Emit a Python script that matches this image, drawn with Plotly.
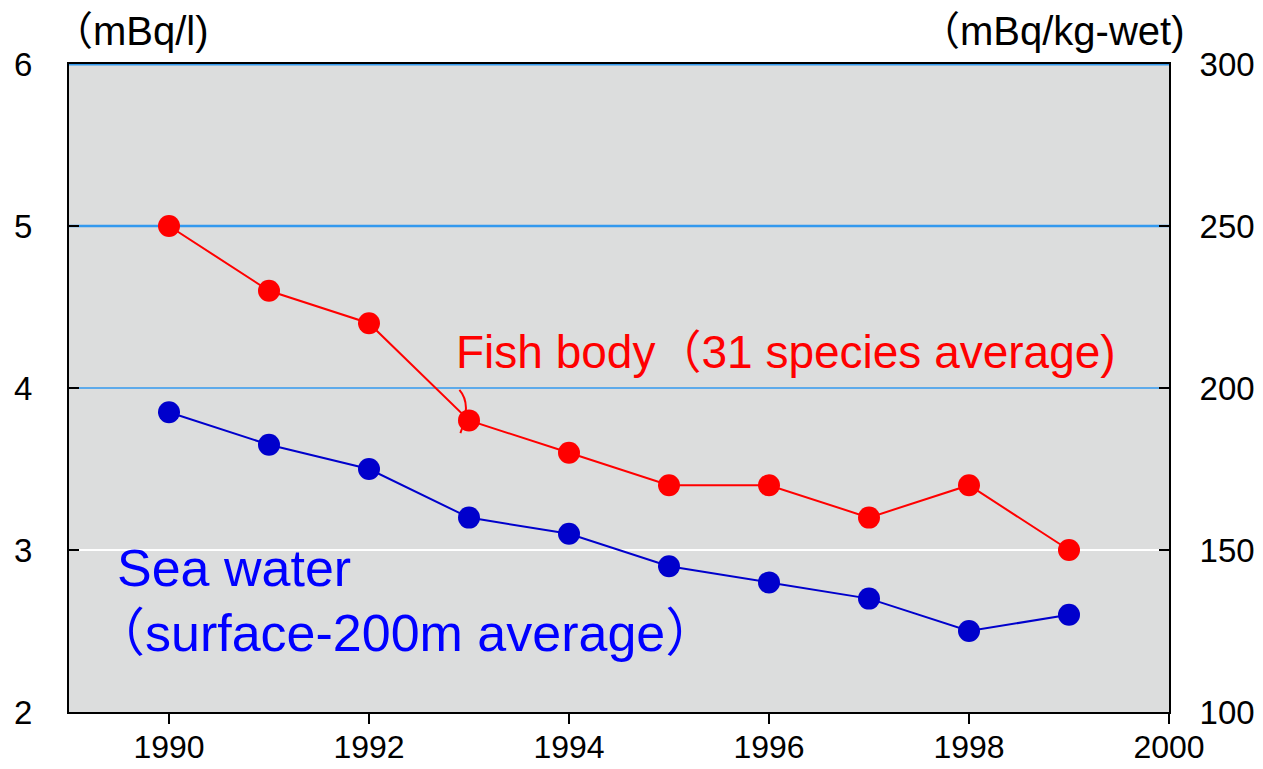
import plotly.graph_objects as go

years = [1990, 1991, 1992, 1993, 1994, 1995, 1996, 1997, 1998, 1999]
sea_water = [3.85, 3.65, 3.50, 3.20, 3.10, 2.90, 2.80, 2.70, 2.50, 2.60]
fish_body = [250, 230, 220, 190, 180, 170, 170, 160, 170, 150]

x_ticks = [1990, 1992, 1994, 1996, 1998, 2000]
left_ticks = [2, 3, 4, 5, 6]
right_ticks = [100, 150, 200, 250, 300]

FONT = "Liberation Sans, Arial, Noto Sans CJK JP, sans-serif"
RED = "#FF0000"
BLUE = "#0000CC"

fig = go.Figure()
fig.add_trace(go.Scatter(
    x=years, y=sea_water, mode="lines+markers", yaxis="y",
    line=dict(color=BLUE, width=2),
    marker=dict(color=BLUE, size=22),
    showlegend=False,
))
fig.add_trace(go.Scatter(
    x=years, y=fish_body, mode="lines+markers", yaxis="y2",
    line=dict(color=RED, width=2),
    marker=dict(color=RED, size=22),
    showlegend=False,
))

shapes = []
# gridlines
for val, col, w in [(6, "#3399EE", 3), (5, "#3399EE", 2.5), (4, "#3399EE", 1.5), (3, "#FFFFFF", 2)]:
    shapes.append(dict(type="line", xref="paper", yref="y", x0=0, x1=1, y0=val, y1=val,
                       line=dict(color=col, width=w), layer="below"))
# leader curve from label to 1993 point
shapes.append(dict(type="path", xref="x", yref="y",
                   path="M 1992.904,3.988 Q 1993.03,3.90 1992.914,3.722",
                   line=dict(color=RED, width=2)))

annotations = [
    dict(text="（mBq/l)", x=0.0, y=1.0, xref="paper", yref="paper", xanchor="left", yanchor="bottom",
         yshift=9, xshift=-18, showarrow=False, font=dict(size=40, color="black", family=FONT)),
    dict(text="（mBq/kg-wet)", x=1.0, y=1.0, xref="paper", yref="paper", xanchor="right", yanchor="bottom",
         yshift=9, xshift=18, showarrow=False, font=dict(size=40, color="black", family=FONT)),
    dict(text="Fish body（31 species average)", x=1992.85, y=4.22, xref="x", yref="y",
         xanchor="left", yanchor="middle", showarrow=False, font=dict(size=46, color=RED, family=FONT)),
    dict(text="Sea water", x=1989.46, y=2.89, xref="x", yref="y",
         xanchor="left", yanchor="middle", showarrow=False, font=dict(size=52, color="#0000FF", family=FONT)),
    dict(text="（surface-200m average）", x=1989.22, y=2.49, xref="x", yref="y",
         xanchor="left", yanchor="middle", showarrow=False, font=dict(size=52, color="#0000FF", family=FONT)),
]

fig.update_layout(
    width=1263, height=769,
    margin=dict(l=69, r=94, t=64, b=57, autoexpand=False),
    paper_bgcolor="white",
    plot_bgcolor="#DCDDDD",
    font=dict(family=FONT, size=32, color="black"),
    shapes=shapes,
    annotations=annotations,
    xaxis=dict(range=[1989, 2000], tickvals=x_ticks, ticks="outside", ticklen=10, tickwidth=2,
               tickcolor="black", showgrid=False, zeroline=False, showline=True, linecolor="black",
               linewidth=2, mirror=True, tickfont=dict(size=32), ticklabelstandoff=-4),
    yaxis=dict(range=[2, 6], tickvals=left_ticks, ticks="inside", ticklen=10, tickwidth=2,
               tickcolor="black", showgrid=False, zeroline=False, showline=True, linecolor="black",
               linewidth=2, tickfont=dict(size=33), ticklabelstandoff=28),
    yaxis2=dict(range=[100, 300], tickvals=right_ticks, overlaying="y", side="right", ticks="inside",
                ticklen=10, tickwidth=2, tickcolor="black", showgrid=False, zeroline=False,
                showline=True, linecolor="black", linewidth=2, tickfont=dict(size=33),
                ticklabelstandoff=22),
)

fig.write_html("out.html", config={"displayModeBar": False},
               post_script="document.body.style.margin='0';document.body.style.padding='0';")
